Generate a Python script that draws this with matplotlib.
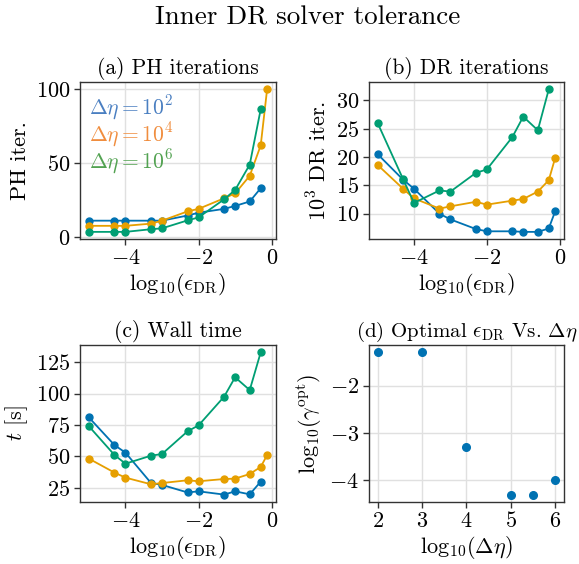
import matplotlib
matplotlib.use("Agg")
import matplotlib.pyplot as plt
import numpy as np

plt.rcParams.update({
    "font.family": "serif",
    "font.serif": ["cmr10"],
    "mathtext.fontset": "cm",
    "axes.formatter.use_mathtext": True,
    "font.size": 15,
})

# log10 of DR tolerance
log_eps = [-5, -4.3, -4, -3.3, -3, -2.3, -2, -1.3, -1, -0.6, -0.3, -0.125]

# (a) PH iterations
ph_e2 = [11, 11, 11, 11, 11, 14.5, 16.4, 19, 21, 24, 33]
ph_e4 = [7.5, 7.5, 7.5, 9, 11, 17.3, 19, 26.2, 29.5, 41.4, 62, 100]
ph_e6 = [3.4, 3.4, 3.4, 5.2, 5.8, 11.2, 13.2, 25.5, 31.8, 49, 86.5]

# (b) DR iterations (x10^3)
dr_e2 = [20.5, 16.0, 14.4, 10.0, 9.0, 7.3, 6.9, 6.9, 6.8, 6.8, 7.4, 10.4]
dr_e4 = [18.6, 14.4, 12.7, 10.9, 11.3, 12.1, 11.6, 12.3, 12.6, 13.9, 15.9, 19.8]
dr_e6 = [26.0, 16.1, 11.9, 14.1, 13.9, 17.2, 17.8, 23.5, 27.1, 24.7, 31.9]

# (c) wall time [s]
t_e2 = [81, 59, 53, 28.8, 27.3, 21.3, 22.2, 19.6, 22.2, 19.8, 29.9]
t_e4 = [48.2, 37.1, 33.1, 27.8, 28.8, 31, 30.2, 32, 32.3, 36, 41.6, 51]
t_e6 = [74, 51.1, 44.2, 50.6, 51.9, 70, 74.7, 97.6, 113, 102.8, 132.8]

# (d) optimal tolerance vs. log10(delta eta)
log_deta = [2, 3, 4, 5, 5.5, 6]
log_gamma_opt = [-1.3, -1.3, -3.3, -4.3, -4.3, -4.0]

c_blue = "#0072B2"
c_orange = "#E69F00"
c_green = "#009E73"
legend_labels = [r"$\Delta\eta = 10^2$", r"$\Delta\eta = 10^4$", r"$\Delta\eta = 10^6$"]
legend_colors = ["#4A7FC1", "#F08D3E", "#52A251"]

W, H = 579, 564
fig = plt.figure(figsize=(W / 100, H / 100), dpi=100)


def add_ax(left, top, right, bottom):
    return fig.add_axes([left / W, 1 - bottom / H, (right - left) / W, (bottom - top) / H])


def style(ax):
    ax.grid(True, color="#e0e0e0", linewidth=1)
    ax.set_axisbelow(True)
    for s in ax.spines.values():
        s.set_color("#333333")
        s.set_linewidth(1.0)
    ax.tick_params(direction="out", length=4, width=1, color="#333333", labelsize=16, pad=3)


ax_a = add_ax(80, 82.3, 276, 239)
ax_b = add_ax(368.7, 82.3, 564, 239)
ax_c = add_ax(80, 345.3, 276, 501.7)
ax_d = add_ax(368.7, 345.3, 564, 501.7)

line_kw = dict(marker="o", markersize=5, linewidth=1.3)
xlab_eps = r"$\mathrm{log}_{10}(\epsilon_{\mathrm{DR}})$"

for ax, ys, ttl, ylab in [
    (ax_a, (ph_e2, ph_e4, ph_e6), "(a) PH iterations", "PH iter."),
    (ax_b, (dr_e2, dr_e4, dr_e6), "(b) DR iterations", r"$10^3$ DR iter."),
    (ax_c, (t_e2, t_e4, t_e6), "(c) Wall time", r"$t$ [s]"),
]:
    for y, c in zip(ys, (c_blue, c_orange, c_green)):
        ax.plot(log_eps[:len(y)], y, color=c, **line_kw)
    ax.set_title(ttl, fontsize=15.5, pad=6)
    ax.set_ylabel(ylab, fontsize=16)
    ax.set_xlabel(xlab_eps, fontsize=16, labelpad=2)
    ax.set_xticks([-4, -2, 0])
    style(ax)

ax_a.set_yticks([0, 50, 100])
ax_b.set_yticks([10, 15, 20, 25, 30])
ax_c.set_yticks([25, 50, 75, 100, 125])

for lab, col, yy in zip(legend_labels, legend_colors, [0.834, 0.664, 0.493]):
    ax_a.text(0.045, yy, lab, color=col, fontsize=15.5, transform=ax_a.transAxes, va="center", ha="left")

ax_d.plot(log_deta, log_gamma_opt, "o", color=c_blue, markersize=5.5)
ax_d.set_title(r"(d) Optimal $\epsilon_{\mathrm{DR}}$ Vs. $\Delta\eta$", fontsize=15, pad=6)
ax_d.set_ylabel(r"$\mathrm{log}_{10}(\gamma^{\mathrm{opt}})$", fontsize=16)
ax_d.set_xlabel(r"$\mathrm{log}_{10}(\Delta\eta)$", fontsize=16, labelpad=2)
ax_d.set_xticks([2, 3, 4, 5, 6])
ax_d.set_yticks([-2, -3, -4])
style(ax_d)

fig.text(0.532, 1 - 18 / H, "Inner DR solver tolerance", fontsize=19.5, ha="center", va="center")

fig.savefig("out.png", dpi=100)
